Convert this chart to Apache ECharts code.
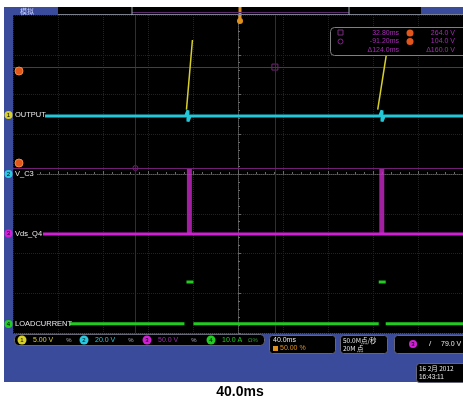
<!DOCTYPE html>
<html><head><meta charset="utf-8">
<script src="https://cdn.jsdelivr.net/npm/echarts@6/dist/echarts.min.js"></script>
<style>html,body{margin:0;padding:0;background:#fff;}#c{width:463px;height:402px;}</style>
</head><body><div id="c"></div>
<script>
// ---- data (time in ms, level in divisions from screen centre) ----
const timeRange = [-200, 200];
const timeStep = 40;
const levelRange = [-4, 4];
const channelNames = ['OUTPUT', 'V_C3', 'Vds_Q4', 'LOADCURRENT'];
const channelScales = ['5.00 V', '20.0 V', '50.0 V', '10.0 A'];
const outputTimes  = [-200, -46.5, -44.5, -44.5, -42.5, 126.0, 128.0, 128.0, 130.0, 200];
const outputValues = [1.46, 1.46, 1.60, 1.32, 1.46, 1.46, 1.60, 1.32, 1.46, 1.46];
const riseStartTimes = [-45.8, 124.2];
const riseEndTimes   = [-40.5, 133.9];
const riseLow = 1.62, riseHigh = 3.37;
const vdsTimes  = [-200, 200];
const vdsValues = [-1.51, -1.51];
const vdsSpikeTimes = [-43.2, 127.8];
const vdsSpikeLow = -1.51, vdsSpikeHigh = 0.15;
const loadLevel = -3.77;
const loadGapStart = [-47.6, 125.1];
const loadGapEnd   = [-39.6, 131.3];
const loadPulseStart = [-45.8, 125.1];
const loadPulseEnd   = [-39.6, 131.3];
const loadPulseLevel = -2.72;
const cursorTimes  = [32.8, -91.2];
const cursorLevels = [2.69, 0.15];
const cursorTimeText = ['32.80ms', '-91.20ms', 'Δ124.0ms'];
const cursorVoltText = ['264.0 V', '104.0 V', 'Δ160.0 V'];
const timebaseText = '40.0ms';

// ---- build ----
const CY = '#22c8d8', MG = '#d020d4', GR = '#20cc20', YL = '#d8d02a';
const BLUE = '#3b4b9b';
const F = 'Liberation Sans, Arial, sans-serif';
const zip = (a, b) => a.map((t, i) => [t, b[i]]);
const base = {type: 'line', symbol: 'none', silent: true, animation: false};
const series = [];
series.push(Object.assign({}, base, {data: zip(outputTimes, outputValues), lineStyle: {color: CY, width: 3}, z: 5}));
series.push(Object.assign({}, base, {data: zip(vdsTimes, vdsValues), lineStyle: {color: MG, width: 3}, z: 5}));
vdsSpikeTimes.forEach(t => series.push(Object.assign({}, base, {data: [[t, vdsSpikeLow], [t, vdsSpikeHigh]], lineStyle: {color: '#c828c8', width: 5, opacity: 0.8}, z: 4})));
riseStartTimes.forEach((t, i) => series.push(Object.assign({}, base, {data: [[t, riseLow], [riseEndTimes[i], riseHigh]], lineStyle: {color: YL, width: 1.5}, z: 6})));
let starts = [timeRange[0]].concat(loadGapEnd), ends = loadGapStart.concat([timeRange[1]]);
starts.forEach((s, i) => series.push(Object.assign({}, base, {data: [[s, loadLevel], [ends[i], loadLevel]], lineStyle: {color: GR, width: 3}, z: 5})));
loadPulseStart.forEach((s, i) => series.push(Object.assign({}, base, {data: [[s, loadPulseLevel], [loadPulseEnd[i], loadPulseLevel]], lineStyle: {color: GR, width: 3}, z: 5})));
// cursors
series.push(Object.assign({}, base, {data: [], z: 3, markLine: {silent: true, symbol: 'none', animation: false, label: {show: false},
  data: [
    {xAxis: cursorTimes[0], lineStyle: {color: '#5e1638', width: 1, type: 'solid'}},
    {xAxis: cursorTimes[1], lineStyle: {color: '#5e1638', width: 1, type: 'solid'}},
    {yAxis: cursorLevels[0], lineStyle: {color: '#701f74', width: 1, type: 'solid'}},
    {yAxis: cursorLevels[1], lineStyle: {color: '#701f74', width: 1, type: 'solid'}}
  ]}}));
series.push({type: 'scatter', silent: true, animation: false, z: 4, symbol: 'rect', symbolSize: 6,
  itemStyle: {color: 'rgba(0,0,0,0)', borderColor: '#8a3090', borderWidth: 1}, data: [[cursorTimes[0], cursorLevels[0]]]});
series.push({type: 'scatter', silent: true, animation: false, z: 4, symbol: 'circle', symbolSize: 5,
  itemStyle: {color: 'rgba(0,0,0,0)', borderColor: '#8a3090', borderWidth: 1}, data: [[cursorTimes[1], cursorLevels[1]]]});

const txt = (x, y, text, fill, size, align, extra) => ({type: 'text', z: 120, style: Object.assign({x, y, text, fill, font: (size || 7) + 'px ' + F, textAlign: align || 'left', textVerticalAlign: 'middle'}, extra || {})});
const rect = (x, y, w, h, fill, stroke, r) => ({type: 'rect', z: 110, shape: {x, y, width: w, height: h, r: r || 0}, style: {fill, stroke: stroke || null, lineWidth: 1}});
const circ = (cx, cy, r, fill, stroke) => ({type: 'circle', z: 115, shape: {cx, cy, r}, style: {fill, stroke: stroke || null, lineWidth: 1}});

const g = [];
// white margins
g.push(rect(0, 0, 463, 7, '#fff'));
g.push(rect(0, 0, 4, 402, '#fff'));
g.push(rect(0, 382, 463, 20, '#fff'));
// top bar
g.push(rect(58, 7, 363, 8, '#000'));
g.push({type: 'line', z: 112, shape: {x1: 58, y1: 14.5, x2: 463, y2: 14.5}, style: {stroke: '#7a7f8a', lineWidth: 1}});
g.push({type: 'line', z: 113, shape: {x1: 132, y1: 12.5, x2: 349, y2: 12.5}, style: {stroke: '#5a2a6a', lineWidth: 1}});
g.push({type: 'line', z: 113, shape: {x1: 132, y1: 7, x2: 132, y2: 15}, style: {stroke: '#9aa', lineWidth: 1}});
g.push({type: 'line', z: 113, shape: {x1: 349, y1: 7, x2: 349, y2: 15}, style: {stroke: '#9aa', lineWidth: 1}});
g.push(txt(20, 11, '模拟', '#c8d0ff', 7, 'left', {font: '7px Noto Sans CJK SC'}));
// trigger marker
g.push(rect(238.5, 7, 3, 12, '#e0901c'));
g.push(circ(240, 21, 3, '#e0901c'));
// left orange cursor markers
g.push(circ(19, 71, 4, '#e2561c', '#f08a40'));
g.push(circ(19, 163, 4, '#e2561c', '#f08a40'));
// channel labels
const labY = [115, 174, 233.5, 324];
const labW = [32, 24, 30, 57];
const chCol = [YL, '#2ac8e0', MG, GR];
channelNames.forEach((n, i) => {
  g.push(rect(13, labY[i] - 4, labW[i], 8, '#000'));
  g.push(txt(15, labY[i], n, '#e8e8e8', 7.5));
  g.push(circ(8.5, labY[i], 4, chCol[i]));
  g.push(txt(8.5, labY[i], String(i + 1), '#000', 6, 'center'));
});
// cursor readout
g.push(rect(330.5, 27.5, 140, 28, '#000', '#808080', 4));
g.push(rect(338, 30, 5, 5, 'rgba(0,0,0,0)', '#7a2a80'));
g.push(circ(340.5, 41.5, 2.5, 'rgba(0,0,0,0)', '#7a2a80'));
const rowY = [33, 41.5, 50];
cursorTimeText.forEach((t, i) => g.push(txt(399, rowY[i], t, '#a52cb4', 7, 'right')));
cursorVoltText.forEach((t, i) => g.push(txt(455, rowY[i], t, '#a52cb4', 7, 'right')));
g.push(circ(410, 33, 3.5, '#e2561c'));
g.push(circ(410, 41.5, 3.5, '#e2561c'));
// channel scale bar
g.push(rect(14.5, 334.5, 250, 11, '#000', '#667', 4));
const chX = [22, 84, 147, 211];
channelScales.forEach((s, i) => {
  g.push(circ(chX[i], 340, 4.5, chCol[i]));
  g.push(txt(chX[i], 340, String(i + 1), '#000', 6, 'center'));
  g.push(txt(chX[i] + 11, 340, s, i === 2 ? '#9a2ea6' : chCol[i], 7));
  if (i < 3) g.push(txt(chX[i] + 47, 340, '%', '#aab', 6, 'center'));
});
g.push(txt(248, 340, 'Ω%', '#2a9a2a', 6));
// timebase box
g.push(rect(269.5, 335.5, 66, 18, '#000', '#667', 3));
g.push(txt(273, 340.5, timebaseText, '#e8e8e8', 7));
g.push(rect(273, 346, 5, 5, '#e0901c'));
g.push(txt(280, 348.5, '50.00 %', '#e0901c', 7));
// sample box
g.push(rect(340.5, 335.5, 47, 18, '#000', '#667', 3));
g.push(txt(343, 340.5, '50.0M点/秒', '#e8e8e8', 6.5, 'left', {font: '6.5px Noto Sans CJK SC'}));
g.push(txt(343, 348.5, '20M 点', '#e8e8e8', 6.5, 'left', {font: '6.5px Noto Sans CJK SC'}));
// trigger box
g.push(rect(394.5, 335.5, 75, 18, '#000', '#667', 3));
g.push(circ(413, 344, 4, MG));
g.push(txt(413, 344, '3', '#000', 6, 'center'));
g.push(txt(430, 344, '/', '#e8e8e8', 8, 'center'));
g.push(txt(441, 344, '79.0 V', '#e8e8e8', 7));
// date box
g.push(rect(416.5, 363.5, 55, 19, '#000', '#667', 3));
g.push(txt(419, 368.5, '16 2月 2012', '#e8e8e8', 6.5, 'left', {font: '6.5px Noto Sans CJK SC'}));
g.push(txt(419, 377, '16:43:11', '#e8e8e8', 6.5));
// caption
g.push(txt(240, 392.5, timebaseText, '#000', 14, 'center', {font: 'bold 14px Liberation Sans, Arial'}));

const chart = echarts.init(document.getElementById('c'), null, {renderer: 'canvas'});
chart.setOption({
  backgroundColor: BLUE,
  animation: false,
  grid: {left: 13, top: 15, width: 454, height: 318, show: true, backgroundColor: '#000', borderWidth: 0},
  xAxis: {type: 'value', min: timeRange[0], max: timeRange[1], interval: timeStep,
    axisLabel: {show: false},
    axisLine: {show: true, onZero: true, lineStyle: {color: '#5a5a5a', type: 'dotted'}},
    axisTick: {show: true, length: 3, inside: true, lineStyle: {color: '#6a6a6a'}},
    minorTick: {show: true, splitNumber: 5, length: 2, lineStyle: {color: '#6a6a6a'}},
    splitLine: {show: true, lineStyle: {color: '#222222', type: 'dotted'}}},
  yAxis: {type: 'value', min: levelRange[0], max: levelRange[1], interval: 1,
    axisLabel: {show: false},
    axisLine: {show: true, onZero: true, lineStyle: {color: '#5a5a5a', type: 'dotted'}},
    axisTick: {show: true, length: 3, inside: true, lineStyle: {color: '#6a6a6a'}},
    minorTick: {show: true, splitNumber: 5, length: 2, lineStyle: {color: '#6a6a6a'}},
    splitLine: {show: true, lineStyle: {color: '#222222', type: 'dotted'}}},
  series: series,
  graphic: {elements: g}
});
</script></body></html>
